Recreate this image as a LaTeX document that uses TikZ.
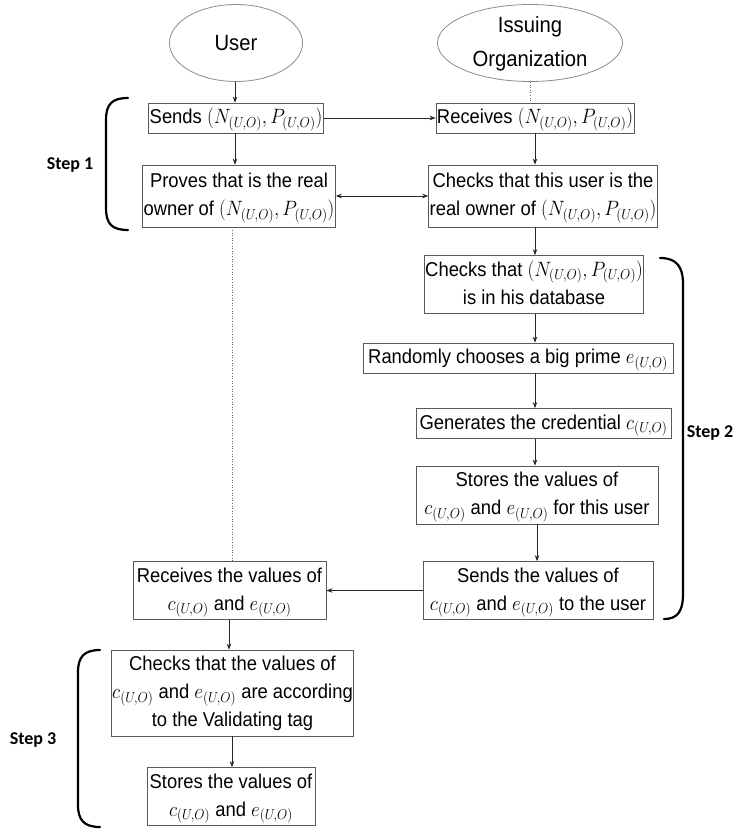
\documentclass[tikz,border=0pt]{standalone}
\usepackage{fontspec}
\setmainfont{Liberation Sans}
\newfontfamily\stepfont{Carlito}
\usepackage{graphicx}
\usetikzlibrary{arrows.meta,shapes.geometric}

% narrow, centred, multi-line cell text
\newcommand{\nar}[1]{\scalebox{0.92}[1]{\begin{tabular}{@{}c@{}}#1\end{tabular}}}
\newcommand{\UO}{_{(U,O)}}
\newcommand{\NP}{$(N\UO,P\UO)$}
\newcommand{\cUO}{$c\UO$}
\newcommand{\eUO}{$e\UO$}

\tikzset{
  box/.style={rectangle, draw=black!65, line width=0.8pt, inner sep=1pt,
    font=\fontsize{20}{28}\selectfont, align=center},
  actor/.style={ellipse, draw=black!45, line width=0.8pt, inner sep=0pt},
  actortext/.style={inner sep=0pt, font=\fontsize{22}{34}\selectfont, align=center},
  arr/.style={draw=black!85, line width=0.7pt, -{Stealth[length=6pt,width=4.5pt]}},
  biarr/.style={draw=black!85, line width=0.7pt,
    {Stealth[length=6pt,width=4.5pt]}-{Stealth[length=6pt,width=4.5pt]}},
  dotline/.style={draw=black!60, line width=0.6pt, dotted},
  brace/.style={draw=black, line width=2.2pt, line cap=round},
  steplabel/.style={font=\stepfont\bfseries\fontsize{18}{20}\selectfont}
}

\begin{document}
\begin{tikzpicture}[x=1pt,y=-1pt]
  \fill[white] (0,0) rectangle (748,830);
  \useasboundingbox (0,0) rectangle (748,830);

  % column guides for the vertical connectors
  \coordinate (ucol) at (235,0);
  \coordinate (icol) at (535,0);
  \coordinate (scol) at (537,0);
  \coordinate (dcol) at (232,0);
  \coordinate (lcol) at (229,0);

  % actors: outline and label
  \node[actor, minimum width=133pt, minimum height=77pt] (user) at (236,43) {};
  \node[actortext] (usertext) at (user.center) {\scalebox{0.92}[1]{User}};
  \node[actor, minimum width=185pt, minimum height=77pt] (io) at (530,43) {};
  \node[actortext] (iotext) at (io.center)
    {\scalebox{0.92}[1]{\begin{tabular}{@{}c@{}}Issuing\\Organization\end{tabular}}};

  % step 1
  \node[box, minimum width=172pt, minimum height=28pt] (sends) at (236,118) {\nar{Sends \NP}};
  \node[box, minimum width=194pt, minimum height=29pt] (recv) at (535,118) {\nar{Receives \NP}};
  \node[box, minimum width=192pt, minimum height=62pt] (proves) at (239,196)
    {\nar{Proves that is the real\\owner of \NP}};
  \node[box, minimum width=228pt, minimum height=62pt] (owner) at (543,196)
    {\nar{Checks that this user is the\\real owner of \NP}};

  % step 2
  \node[box, minimum width=218pt, minimum height=53pt] (checkdb) at (534,284.5)
    {\nar{Checks that \NP\\is in his database}};
  \node[box, minimum width=310pt, minimum height=30pt] (random) at (518,358)
    {\nar{Randomly chooses a big prime \eUO}};
  \node[box, minimum width=255pt, minimum height=27pt] (gen) at (543.5,423.5)
    {\nar{Generates the credential \cUO}};
  \node[box, minimum width=242pt, minimum height=56pt] (storeio) at (537,495)
    {\nar{Stores the values of\\\cUO{} and \eUO{} for this user}};
  \node[box, minimum width=230pt, minimum height=57pt] (sendv) at (538,590.5)
    {\nar{Sends the values of\\\cUO{} and \eUO{} to the user}};
  \node[box, minimum width=193pt, minimum height=57pt] (recvv) at (229.5,590.5)
    {\nar{Receives the values of\\\cUO{} and \eUO}};

  % step 3
  \node[box, minimum width=241pt, minimum height=86pt] (checkv) at (232.5,693)
    {\nar{Checks that the values of\\\cUO{} and \eUO{} are according\\to the Validating tag}};
  \node[box, minimum width=168pt, minimum height=57pt] (storeu) at (231,796.5)
    {\nar{Stores the values of\\\cUO{} and \eUO}};

  % connectors
  \draw[arr] (user.south -| ucol) -- (sends.north -| ucol);
  \draw[arr] (sends.south -| ucol) -- (proves.north -| ucol);
  \draw[arr] (sends.east) -- (recv.west);
  \draw[dotline] (io.south) -- (recv.north -| io.south);
  \draw[arr] (recv.south -| icol) -- (owner.north -| icol);
  \draw[biarr] (proves.east) -- (owner.west);
  \draw[arr] (owner.south -| icol) -- (checkdb.north -| icol);
  \draw[arr] (checkdb.south -| icol) -- (random.north -| icol);
  \draw[arr] (random.south -| icol) -- (gen.north -| icol);
  \draw[arr] (gen.south -| icol) -- (storeio.north -| icol);
  \draw[arr] (storeio.south -| scol) -- (sendv.north -| scol);
  \draw[arr] (sendv.west) -- (recvv.east);
  \draw[dotline] (proves.south -| dcol) -- (recvv.north -| dcol);
  \draw[arr] (recvv.south -| lcol) -- (checkv.north -| lcol);
  \draw[arr] (checkv.south -| dcol) -- (storeu.north -| dcol);

  % step brackets
  \draw[brace] (128,98) .. controls (112,98) and (106,104) .. (106,120)
    -- (106,208) .. controls (106,224) and (112,230) .. (128,230);
  \draw[brace] (660,258) .. controls (676,258) and (683,266) .. (683,284)
    -- (683,594) .. controls (683,612) and (677,619) .. (664,619);
  \draw[brace] (100,650) .. controls (84,650) and (78,657) .. (78,672)
    -- (78,805) .. controls (78,820) and (84,827) .. (100,827);

  \node[steplabel] (s1) at (70,165) {Step 1};
  \node[steplabel] (s2) at (710,433) {Step 2};
  \node[steplabel] (s3) at (33,740) {Step 3};
\end{tikzpicture}
\end{document}
